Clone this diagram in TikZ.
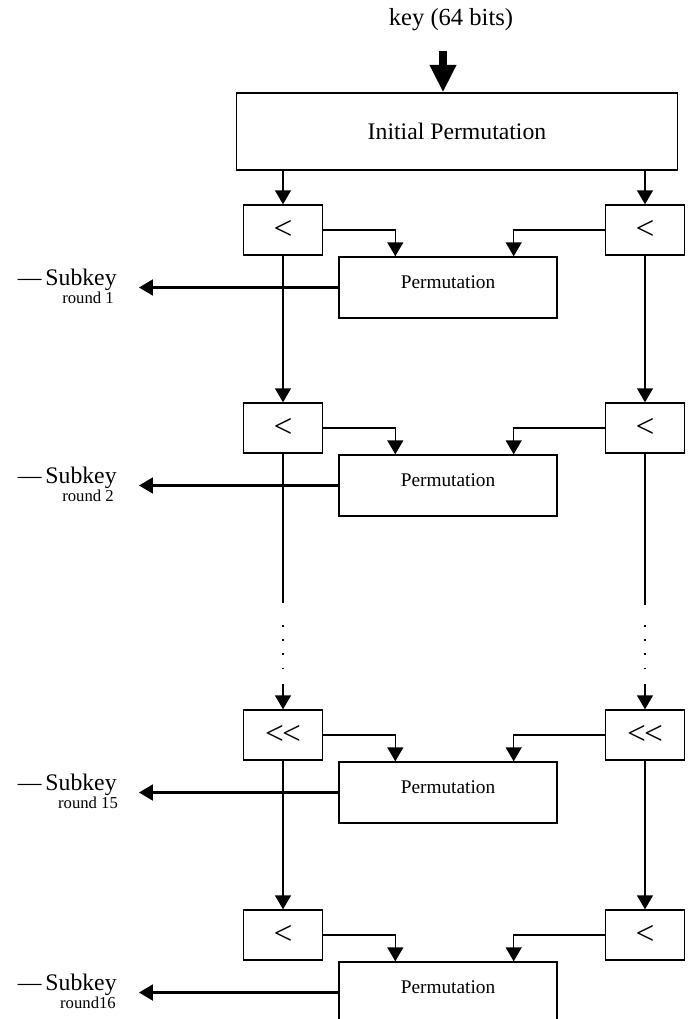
\documentclass[tikz,border=0pt]{standalone}
\usepackage{fontspec}
\setmainfont{Liberation Serif}
\usetikzlibrary{arrows.meta}

\tikzset{
	box/.style={draw, line width=0.8pt, inner sep=0pt},
	shiftbox/.style={box, minimum width=1.58cm, minimum height=1cm, font=\fontsize{19}{19}\selectfont},
	permbox/.style={box, minimum width=4.36cm, minimum height=1.22cm, font=\fontsize{11}{13}\selectfont},
	arr/.style={line width=0.8pt, -{Triangle[length=0.28cm,width=0.32cm]}},
	skarr/.style={arr, line width=1.2pt},
	keyarr/.style={line width=0.16cm, -{Triangle[length=0.55cm,width=0.5cm]}},
	sklabel/.style={inner sep=0pt, font=\fontsize{13.5}{14}\selectfont},
	rdlabel/.style={inner sep=0pt, font=\fontsize{9.5}{10}\selectfont},
	gap/.style={line width=0.9pt, dash pattern=on 0.9pt off 7.2pt}
}

\begin{document}
\begin{tikzpicture}[x=0.02cm,y=-0.02cm]
	\useasboundingbox (0,0) rectangle (694,1019);

	\node[font=\fontsize{14}{16}\selectfont] (key) at (451,20) {key (64 bits)};
	\node[box, minimum width=8.82cm, minimum height=1.54cm, font=\fontsize{13.5}{16}\selectfont] (ip) at (457,131.5) {Initial Permutation};
	\coordinate (kin) at (443,51);
	\draw[keyarr] (kin) -- (kin |- ip.north);

	% one block per round
	\foreach \i/\t/\s/\r in {1/205/</round 1, 2/403/</round 2, 15/710/{<}\kern-1pt{<}/round 15, 16/910/</round16}{
		\node[shiftbox] (l\i) at (283,\t+25) {\s};
		\node[shiftbox] (r\i) at (645,\t+25) {\s};
		\node[permbox] (p\i) at (448,\t+82.5) {\raisebox{6pt}{Permutation}};
		\draw[arr] (l\i.east) -| ([xshift=1.14cm]p\i.north west);
		\draw[arr] (r\i.west) -| ([xshift=-0.88cm]p\i.north east);
		\node[sklabel, anchor=east] (sk\i) at (117,\t+75) {—\,Subkey};
		\node[rdlabel] (rd\i) at (88,\t+93) {\r};
		\draw[skarr] (p\i.west) -- ([xshift=0.44cm]p\i.west -| sk\i.east);
	}

	\draw[arr] (ip.south -| l1.north) -- (l1.north);
	\draw[arr] (ip.south -| r1.north) -- (r1.north);
	\draw[arr] (l1.south) -- (l2.north);
	\draw[arr] (r1.south) -- (r2.north);
	\draw[arr] (l15.south) -- (l16.north);
	\draw[arr] (r15.south) -- (r16.north);

	% the rounds left out
	\coordinate (ga) at (283,603);
	\coordinate (gb) at (283,625);
	\coordinate (gc) at (283,672);
	\coordinate (gd) at (283,684);
	\coordinate (ha) at (645,605);
	\coordinate (hb) at (645,625);
	\coordinate (hc) at (645,672);
	\coordinate (hd) at (645,684);
	\draw[line width=0.8pt] (l2.south) -- (ga);
	\draw[line width=0.8pt] (r2.south) -- (ha);
	\draw[gap] (gb) -- (gc);
	\draw[gap] (hb) -- (hc);
	\draw[arr] (gd) -- (l15.north);
	\draw[arr] (hd) -- (r15.north);
\end{tikzpicture}
\end{document}
